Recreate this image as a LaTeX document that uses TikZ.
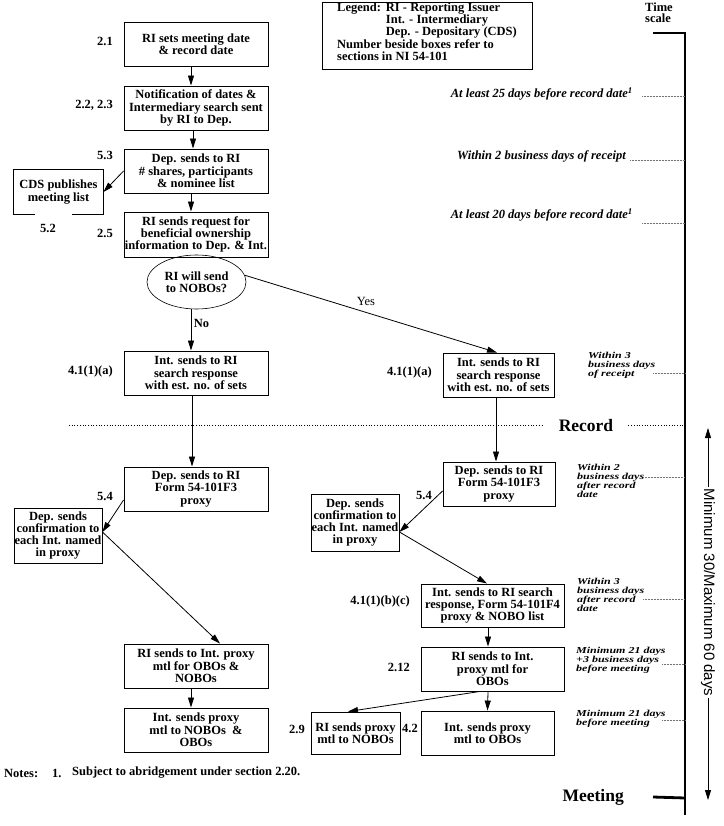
\documentclass[tikz,border=0pt]{standalone}
\usepackage{fontspec}
\setmainfont{Liberation Serif}
\newfontfamily\sansf{Liberation Sans}
\usepackage{graphicx}
\usetikzlibrary{arrows.meta,shapes.geometric}

\newcommand{\bxf}{\bfseries\fontsize{12.5}{12.3}\selectfont}
\newcommand{\ntf}{\bfseries\itshape\fontsize{12.5}{12.5}\selectfont}
\newcommand{\snote}[1]{\scalebox{1}[0.76]{\begin{tabular}{@{}l@{}}#1\end{tabular}}}

\begin{document}
\begin{tikzpicture}[x=1pt,y=-1pt,
  box/.style={draw, line width=0.9pt, inner sep=0pt, align=center, font=\bxf},
  bx/.style 2 args={box, minimum width=#1, minimum height=#2},
  lbl/.style={font=\bxf, inner sep=0pt},
  arr/.style={-{Triangle[length=10pt,width=6pt]}, line width=0.8pt},
  conn/.style={line width=0.8pt},
  note/.style={font=\ntf, inner sep=0pt},
  snotest/.style={font=\bfseries\itshape\fontsize{12}{12}\selectfont, inner sep=0pt, anchor=north west},
  tickline/.style={densely dotted, black!55, line width=0.5pt},
  recline/.style={dotted, line width=0.7pt},
  bar/.style={line width=2.8pt},
]
\fill[white] (0,0) rectangle (723,826);
\useasboundingbox (0,0) rectangle (723,826);

% ---------- left column ----------
\node[bx={144pt}{44pt}] (b1) at (196,44) {RI sets meeting date\\\& record date};
\node[bx={144pt}{44pt}] (b2) at (196,108) {Notification of dates \&\\Intermediary search sent\\by RI to Dep.};
\node[bx={144pt}{44pt}] (b3) at (196,171) {Dep. sends to RI\\\# shares, participants\\\& nominee list};
\node[box, draw=none, minimum width=89pt, minimum height=44pt] (cds) at (58.5,192) {CDS publishes\\meeting list};
\draw[line width=0.9pt] ([xshift=21pt]cds.south west) -- (cds.south west) -- (cds.north west) -- (cds.north east) -- (cds.south east) -- ([xshift=-31pt]cds.south east);
\node[bx={144pt}{45pt}] (b4) at (196,234.5) {RI sends request for\\beneficial ownership\\information to Dep. \& Int.};
\node[draw, ellipse, line width=0.6pt, minimum width=99pt, minimum height=54pt, inner sep=0pt, align=center, font=\bxf] (dec) at (196.5,282) {RI will send\\to NOBOs?};
\node[bx={144pt}{44pt}] (b5) at (196,373) {Int. sends to RI\\search response\\with est. no. of sets};
\node[bx={144pt}{44pt}] (b7) at (196,489) {Dep. sends to RI\\Form 54-101F3\\proxy};
\node[bx={88pt}{55pt}] (b8) at (58,535.5) {Dep. sends\\confirmation to\\each Int. named\\in proxy};
\node[bx={144pt}{44pt}] (b9) at (196,666) {RI sends to Int. proxy\\mtl for OBOs \&\\NOBOs};
\node[bx={144pt}{44pt}] (b10) at (196,730) {Int. sends proxy\\mtl to NOBOs~~\&\\OBOs};

% ---------- right column ----------
\node[bx={111pt}{44pt}] (b6) at (498.5,375) {Int. sends to RI\\search response\\with est. no. of sets};
\node[bx={112pt}{44pt}] (b11) at (499,484) {Dep. sends to RI\\Form 54-101F3\\proxy};
\node[bx={88pt}{57pt}] (b12) at (355,522.5) {Dep. sends\\confirmation to\\each Int. named\\in proxy};
\node[bx={143pt}{43pt}] (b13) at (492.5,605.5) {Int. sends to RI search\\response, Form 54-101F4\\proxy \& NOBO list};
\node[bx={143pt}{44pt}] (b14) at (492.5,669) {RI sends to Int.\\proxy mtl for\\OBOs};
\node[bx={133pt}{44pt}] (b15) at (487.5,733) {Int. sends proxy\\mtl to OBOs};
\node[bx={89pt}{42pt}] (b16) at (355.5,733) {RI sends proxy\\mtl to NOBOs};

% ---------- section labels ----------
\node[lbl, anchor=east] (l1) at (113,41) {2.1};
\node[lbl, anchor=east] (l2) at (113,105) {2.2, 2.3};
\node[lbl, anchor=east] (l3) at (113,155) {5.3};
\node[lbl] (l4) at (48,228) {5.2};
\node[lbl, anchor=east] (l5) at (113,233) {2.5};
\node[lbl, anchor=east] (l6) at (113,371) {4.1(1)(a)};
\node[lbl, anchor=east] (l7) at (113,496) {5.4};
\node[lbl, anchor=east] (l8) at (432,372) {4.1(1)(a)};
\node[lbl, anchor=east] (l9) at (432,495) {5.4};
\node[lbl, anchor=east] (l10) at (410,601) {4.1(1)(b)(c)};
\node[lbl, anchor=east] (l11) at (410,667) {2.12};
\node[lbl, anchor=east] (l12) at (305,729) {2.9};
\node[lbl, anchor=east] (l13) at (418,728) {4.2};
\node[lbl] (yes) at (366,301) {\mdseries Yes};
\node[lbl] (no) at (201.5,323) {No};

% ---------- connectors ----------
\draw[arr] ([xshift=-5pt]b1.south) -- ([xshift=-5pt]b2.north);
\draw[arr] ([xshift=-3pt]b2.south) -- ([xshift=-3pt]b3.north);
\draw[arr] ([xshift=-5pt]b3.south) -- ([xshift=-5pt]b4.north);
\draw[arr] (b3.west) -- (cds.east);
\draw[arr] ([xshift=-5.5pt]dec.south) -- ([xshift=-5pt]b5.north);
\draw[arr] (dec.8) -- ([xshift=-1.5pt]b6.north);
\draw[arr] ([xshift=-4pt]b5.south) -- ([xshift=-4pt]b7.north);
\draw[arr] ([xshift=-2.5pt]b6.south) -- ([xshift=-3pt]b11.north);
\draw[arr] ([yshift=-11pt]b7.west) -- ([yshift=3.5pt]b8.east);
\draw[arr] ([yshift=3.5pt]b8.east) -- ([xshift=24pt]b9.north);
\draw[arr] ([xshift=-5pt]b9.south) -- ([xshift=-5pt]b10.north);
\draw[arr] ([yshift=-7pt]b11.west) -- ([yshift=-9.5pt]b12.east);
\draw[arr] ([yshift=-9.5pt]b12.east) -- ([xshift=-5.5pt]b13.north);
\draw[arr] ([xshift=-4.5pt]b13.south) -- ([xshift=-4.5pt]b14.north);
\draw[arr] ([xshift=-4.5pt]b14.south) -- (b15.north);
\draw[arr] ([xshift=-12.5pt]b14.south) -- ([xshift=-7.5pt]b16.north);

% ---------- legend ----------
\node[draw, line width=0.9pt, minimum width=210pt, minimum height=67pt, inner sep=0pt, anchor=north west] (legend) at (322,2) {};
\node[anchor=north west, inner sep=0pt, font=\bfseries\fontsize{12.5}{12}\selectfont] (legtxt) at (337,2.5)
  {\begin{tabular}{@{}l@{\hspace{5pt}}l@{}}
   Legend: & RI - Reporting Issuer\\
           & Int. - Intermediary\\
           & Dep. - Depositary (CDS)\\
   \multicolumn{2}{@{}l@{}}{Number beside boxes refer to}\\
   \multicolumn{2}{@{}l@{}}{sections in NI 54-101}
  \end{tabular}};

% ---------- time scale ----------
\node[anchor=north west, inner sep=0pt, align=left, font=\bfseries\fontsize{12.5}{11}\selectfont] (ts) at (645,3) {Time\\scale};
\coordinate (tbTL) at (653,33);
\coordinate (tbT) at (685,33);
\coordinate (tbB) at (685,815);
\coordinate (mtR) at (685,798);
\draw[bar] (tbTL) -- (tbT) -- (tbB);
\node[font=\bfseries\fontsize{17.5}{20}\selectfont, inner ysep=0pt, inner xsep=29pt, anchor=east] (meet) at (653,797) {Meeting};
\draw[bar] (meet.east) -- (mtR);

% record line
\node[font=\bfseries\fontsize{17.5}{20}\selectfont, inner ysep=0pt, inner xsep=15pt] (rec) at (586,426) {Record};
\coordinate (recL) at (69,425);
\draw[recline] (recL) -- (rec.west |- recL);
\draw[recline] (rec.east |- recL) -- (recL -| tbT);

% span arrow
\node[rotate=-90, inner sep=2pt, font=\sansf\fontsize{15}{15}\selectfont] (span) at (708,592.5) {Minimum 30/Maximum 60 days};
\coordinate (arT) at (708,428);
\coordinate (arB) at (708,800);
\draw[arr] (span.west) -- (arT);
\draw[arr] (span.east) -- (arB);

% ---------- time notes ----------
\node[note, anchor=east] (n1) at (633,94) {At least 25 days before record date\textsuperscript{1}};
\node[note, anchor=east] (n2) at (626,156) {Within 2 business days of receipt};
\node[note, anchor=east] (n3) at (633,215) {At least 20 days before record date\textsuperscript{1}};
\node[snotest] (n4) at (588,352) {\snote{Within 3\\business days\\of receipt}};
\node[snotest] (n5) at (577,464) {\snote{Within 2\\business days\\after record\\date}};
\node[snotest] (n6) at (577,578) {\snote{Within 3\\business days\\after record\\date}};
\node[snotest] (n7) at (576,647) {\snote{Minimum 21 days\\+3 business days\\before meeting}};
\node[snotest] (n8) at (576,710) {\snote{Minimum 21 days\\before meeting}};

\coordinate (d1) at (642,96);
\coordinate (d2) at (630,160);
\coordinate (d3) at (642,223);
\coordinate (d4) at (653,373);
\coordinate (d5) at (643,477);
\coordinate (d6) at (643,599);
\coordinate (d7) at (662,664);
\coordinate (d8) at (662,720);
\foreach \d in {d1,d2,d3,d4,d5,d6,d7,d8}
  \draw[tickline] (\d) -- (\d -| tbT);

% ---------- notes ----------
\node[lbl, anchor=west] (notes) at (4,773) {Notes:};
\node[lbl, anchor=west] (note1n) at (52,773) {1.};
\node[lbl, anchor=west] (note1) at (72,773) {Subject to abridgement under section 2.20.};
\end{tikzpicture}
\end{document}
